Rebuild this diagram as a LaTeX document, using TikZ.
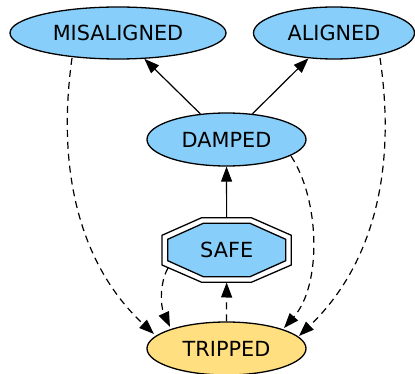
\documentclass[tikz,border=0pt]{standalone}
\usepackage{fontspec}
\setmainfont{DejaVu Sans}
\usetikzlibrary{shapes.geometric,arrows.meta,calc}
\definecolor{skyfill}{HTML}{87CEFA}
\definecolor{goldfill}{HTML}{FFDF80}
\begin{document}
\begin{tikzpicture}[x=1pt,y=-1pt,
  state/.style={ellipse, draw, line width=1.3pt, fill=skyfill, inner sep=0pt,
    font=\fontsize{20.8}{25}\selectfont},
  octo/.style={draw, line width=1.3pt},
  lbl/.style={inner sep=0pt, font=\fontsize{20.8}{25}\selectfont},
  edge/.style={line width=1.2pt, -{Triangle[length=15pt,width=11pt]}},
  dashedge/.style={edge, dash pattern=on 7pt off 5pt},
]
\useasboundingbox (0,0) rectangle (415,374);
\node[state, minimum width=216pt, minimum height=52pt] (mis) at (118,33) {MISALIGNED};
\node[state, minimum width=161pt, minimum height=52pt] (ali) at (334,33) {ALIGNED};
\node[state, minimum width=159pt, minimum height=53pt] (dam) at (226.5,139.5) {DAMPED};
\node[state, fill=goldfill, minimum width=159pt, minimum height=53pt] (tri) at (226.5,348.5) {TRIPPED};
\coordinate (sc) at (226.7,250);
\begin{scope}[shift={(sc)}]
  \draw[octo, fill=white] (-25,-32.3) -- (24.6,-32.3) -- (64.6,-14.7) -- (64.6,15)
    -- (24.6,32.3) -- (-25,32.3) -- (-64.7,15) -- (-64.7,-14.7) -- cycle;
  \draw[octo, fill=skyfill] (-23.4,-26.7) -- (23.3,-26.7) -- (59,-10.7) -- (59,10.7)
    -- (23.3,26.7) -- (-23.4,26.7) -- (-59,10.7) -- (-59,-10.7) -- cycle;
\end{scope}
\node[lbl, minimum width=129.3pt, minimum height=64.6pt] (safe) at (sc) {SAFE};
% solid edges
\draw[edge] (dam) -- (mis);
\draw[edge] (dam) -- (ali);
\draw[edge] (safe) -- (dam);
% dashed edges
\draw[dashedge] (tri) -- (safe);
\draw[dashedge] ($(mis)+(-46,25)$) .. controls (55,180) and (85,270) .. ($(tri)+(-72.5,-14.5)$);
\draw[dashedge] ($(ali)+(46,25)$) .. controls (398,180) and (368,270) .. ($(tri)+(72.5,-12.5)$);
\draw[dashedge] ($(dam)+(64.5,16.5)$) .. controls (320,200) and (322,285) .. ($(tri)+(57.5,-20.5)$);
\draw[dashedge] ($(safe)+(-58.7,18)$) .. controls (160,282) and (160,305) .. ($(tri)+(-56.5,-21.5)$);
\end{tikzpicture}
\end{document}
